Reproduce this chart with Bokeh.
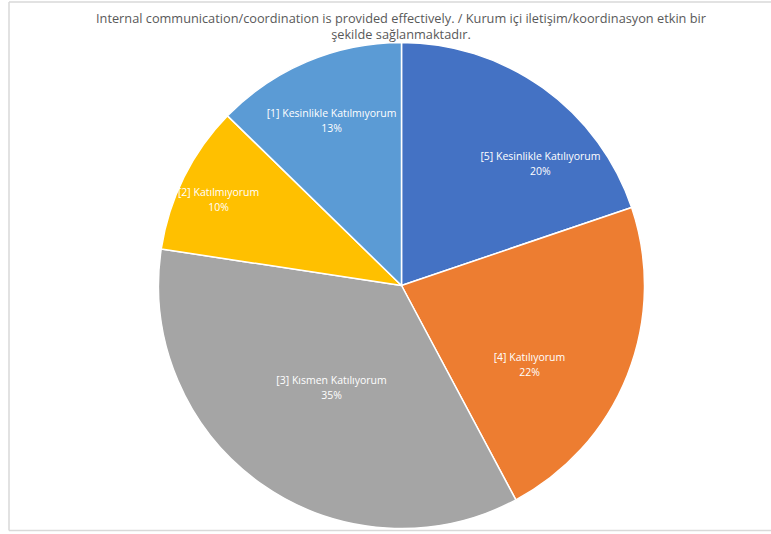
import math
from bokeh.plotting import figure
from bokeh.models import Range1d, ColumnDataSource
from bokeh.core.properties import value
from bokeh.embed import file_html
from bokeh.resources import INLINE

# ---- data ----
categories = ["[5] Kesinlikle Katılıyorum", "[4] Katılıyorum", "[3] Kısmen Katılıyorum",
              "[2] Katılmıyorum", "[1] Kesinlikle Katılmıyorum"]
percents = [19.8, 22.4, 35.2, 9.9, 12.7]
colors = ["#4472C4", "#ED7D31", "#A5A5A5", "#FFC000", "#5B9BD5"]
title_lines = ["Internal communication/coordination is provided effectively. / Kurum içi iletişim/koordinasyon etkin bir",
               "şekilde sağlanmaktadır."]

# ---- layout (pixel-like data space) ----
W, H = 771, 534
TOP = 534  # data y = TOP - page pixel y
cx, cy, R = 401, TOP - 285, 243
label_angle_shift_deg = [12.9, 9.8, -0.6, -1.1, 0.0]
label_r_frac = [0.763, 0.617, 0.506, 0.833, 0.741]

total = float(sum(percents))
starts, ends, mids = [], [], []
cum = 0.0
for v in percents:
    a0 = math.pi / 2 - 2 * math.pi * cum / total
    cum += v
    a1 = math.pi / 2 - 2 * math.pi * cum / total
    starts.append(a0)
    ends.append(a1)
    mids.append((a0 + a1) / 2)

src = ColumnDataSource(dict(start=starts, end=ends, color=colors))

p = figure(width=W, height=H, output_backend="svg", toolbar_location=None,
           x_range=Range1d(0, W), y_range=Range1d(0, H),
           min_border=0, outline_line_color=None)
p.xaxis.visible = False
p.yaxis.visible = False
p.grid.visible = False
p.background_fill_color = "white"
p.border_fill_color = "white"

# chart-area border (left, top, bottom visible)
p.segment(x0=[8.5, 8.5, 8.5], y0=[TOP - 530, TOP - 1.5, TOP - 530],
          x1=[8.5, W, W], y1=[TOP - 1.5, TOP - 1.5, TOP - 530],
          line_color="#d9d9d9", line_width=1.5)

p.wedge(x=cx, y=cy, radius=R, start_angle="start", end_angle="end", direction="clock",
        fill_color="color", line_color="white", line_width=1.5, source=src)

lx, ly, l1, l2 = [], [], [], []
for i, (c, v) in enumerate(zip(categories, percents)):
    a = mids[i] - math.radians(label_angle_shift_deg[i])
    r = R * label_r_frac[i]
    lx.append(cx + r * math.cos(a))
    ly.append(cy + r * math.sin(a))
    l1.append(c)
    l2.append(f"{round(100 * v / total)}%")

lsrc = ColumnDataSource(dict(x=lx, y=ly, t1=l1, t2=l2))
p.text(x="x", y="y", text="t1", source=lsrc, text_align="center", text_baseline="middle",
       y_offset=-7, text_color="white", text_font=value("Open Sans"), text_font_size="10.5px")
p.text(x="x", y="y", text="t2", source=lsrc, text_align="center", text_baseline="middle",
       y_offset=8, text_color="white", text_font=value("Open Sans"), text_font_size="10.5px")

p.text(x=[400.5, 400.5], y=[TOP - 17, TOP - 33], text=title_lines, text_align="center",
       text_baseline="middle", text_color="#595959", text_font=value("Open Sans"),
       text_font_size="12.75px")

open("out.html", "w").write(file_html(p, INLINE))
